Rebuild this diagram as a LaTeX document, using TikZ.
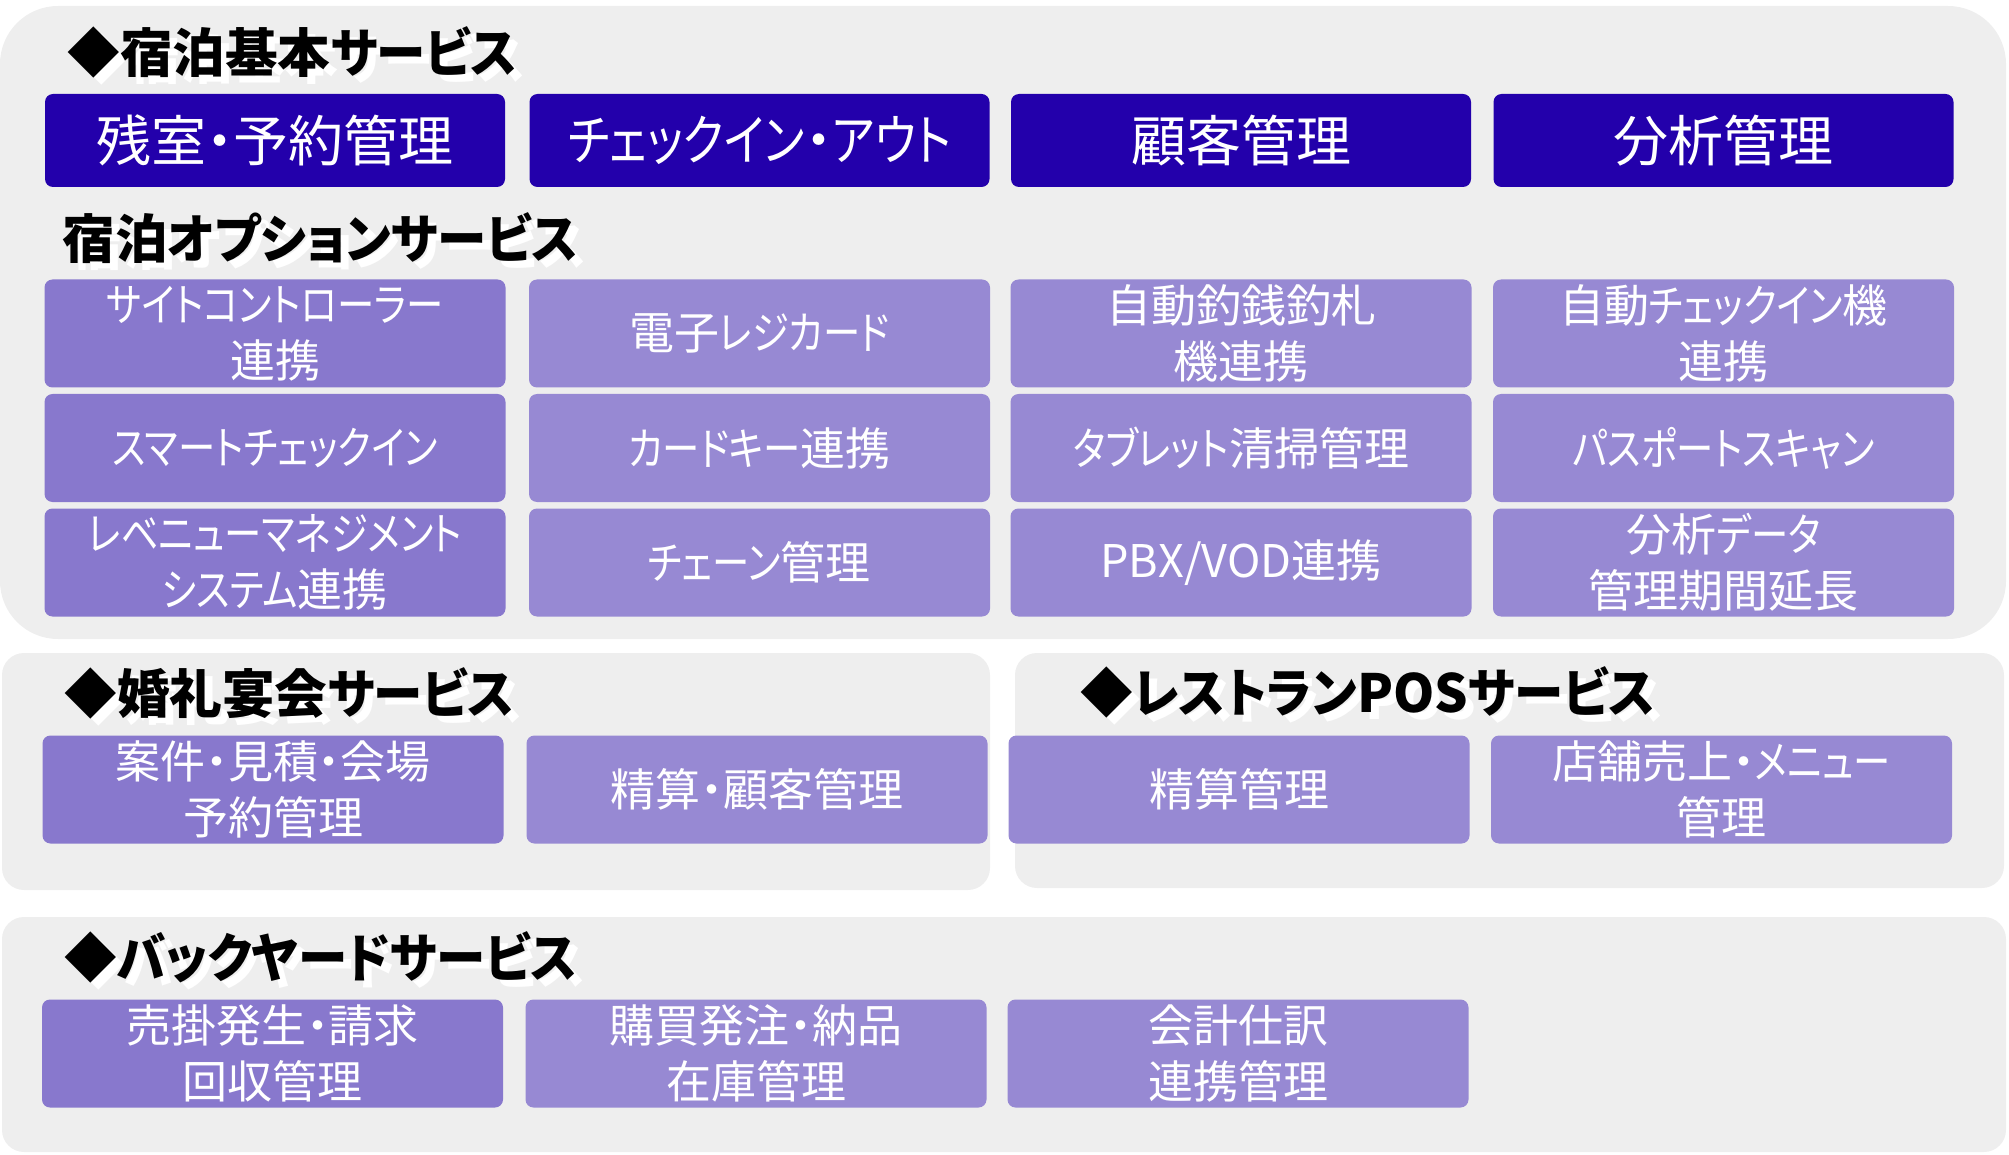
\documentclass[tikz,border=0pt]{standalone}
\usepackage{fontspec}
\newfontfamily\jp[RawFeature=+palt]{Noto Sans CJK JP}
\newfontfamily\jpn[RawFeature=+palt,FakeStretch=0.83]{Noto Sans CJK JP}
\newfontfamily\jpt[RawFeature=+palt,FakeStretch=0.94]{Noto Sans CJK JP}
\newcommand\kn[1]{{\jpn #1}}
\newcommand\kt[1]{{\jpt #1}}
\definecolor{panel}{HTML}{EEEEEE}
\definecolor{deep}{HTML}{2300AB}
\definecolor{pdark}{HTML}{8878CD}
\definecolor{plight}{HTML}{9789D3}
\begin{document}
\begin{tikzpicture}[x=0.5pt,y=-0.5pt,
  panelbox/.style={fill=panel},
  basebox/.style={fill=deep, rounded corners=4pt, minimum width=230pt, minimum height=46.5pt, inner sep=0pt, text=white, font=\jp\fontsize{27.5}{33}\selectfont},
  optbox/.style={rounded corners=4pt, minimum width=230.5pt, minimum height=54pt, inner sep=0pt, text=white, align=center, font=\jp\fontsize{22.5}{28}\selectfont},
  dk/.style={optbox, fill=pdark},
  lt/.style={optbox, fill=plight},
  ttl/.style={anchor=west, inner sep=0pt, font=\jp\bfseries\fontsize{26.3}{30}\selectfont},
  ttlshadow/.style={ttl, text=white},
]
\useasboundingbox (0,0) rectangle (2009,1155);
% panels
\path[panelbox, rounded corners=29pt] (0,6) rectangle (2006,639);
\path[panelbox, rounded corners=11pt] (2,653) rectangle (990,890);
\path[panelbox, rounded corners=11pt] (1015,653) rectangle (2004,888);
\path[panelbox, rounded corners=11pt] (2,917) rectangle (2006,1152);

% titles (white offset copy, then black)
\node[ttlshadow] (t1s) at (75,59) {◆宿泊基本\kt{サービス}};
\node[ttl] (t1) at (67,52) {◆宿泊基本\kt{サービス}};
\node[ttlshadow] (t2s) at (70,245) {宿泊\kt{オプションサービス}};
\node[ttl] (t2) at (62,238) {宿泊\kt{オプションサービス}};
\node[ttlshadow] (t3s) at (72,700) {◆婚礼宴会\kt{サービス}};
\node[ttl] (t3) at (64,693) {◆婚礼宴会\kt{サービス}};
\node[ttlshadow] (t4s) at (1088,699) {◆\kt{レストラン}POS\kt{サービス}};
\node[ttl] (t4) at (1080,692) {◆\kt{レストラン}POS\kt{サービス}};
\node[ttlshadow] (t5s) at (72,964) {◆\kt{バックヤードサービス}};
\node[ttl] (t5) at (64,957) {◆\kt{バックヤードサービス}};

% basic services
\node[basebox] (b1) at (275,140.5) {残室・予約管理};
\node[basebox] (b2) at (759.5,140.5) {\kn{チェックイン}・\kn{アウト}};
\node[basebox] (b3) at (1241,140.5) {顧客管理};
\node[basebox] (b4) at (1723.5,140.5) {分析管理};

% option services
\node[dk] (o11) at (275,333.5) {\kn{サイトコントローラー}\\連携};
\node[lt] (o12) at (759.5,333.5) {電子\kn{レジカード}};
\node[lt] (o13) at (1241,333.5) {自動釣銭釣札\\機連携};
\node[lt] (o14) at (1723.5,333.5) {自動\kn{チェックイン}機\\連携};
\node[dk] (o21) at (275,448) {\kn{スマートチェックイン}};
\node[lt] (o22) at (759.5,448) {\kn{カードキー}連携};
\node[lt] (o23) at (1241,448) {\kn{タブレット}清掃管理};
\node[lt] (o24) at (1723.5,448) {\kn{パスポートスキャン}};
\node[dk] (o31) at (275,562.5) {\kn{レベニューマネジメント}\\\kn{システム}連携};
\node[lt] (o32) at (759.5,562.5) {\kn{チェーン}管理};
\node[lt] (o33) at (1241,562.5) {PBX/VOD連携};
\node[lt] (o34) at (1723.5,562.5) {分析\kn{データ}\\管理期間延長};

% wedding
\node[dk] (w1) at (273,789.5) {案件・見積・会場\\予約管理};
\node[lt] (w2) at (757,789.5) {精算・顧客管理};
% restaurant
\node[lt] (r1) at (1239,789.5) {精算管理};
\node[lt] (r2) at (1721.5,789.5) {店舗売上・\kn{メニュー}\\管理};
% backyard
\node[dk] (y1) at (272.5,1053.5) {売掛発生・請求\\回収管理};
\node[lt] (y2) at (756,1053.5) {購買発注・納品\\在庫管理};
\node[lt] (y3) at (1238,1053.5) {会計仕訳\\連携管理};
\end{tikzpicture}
\end{document}
